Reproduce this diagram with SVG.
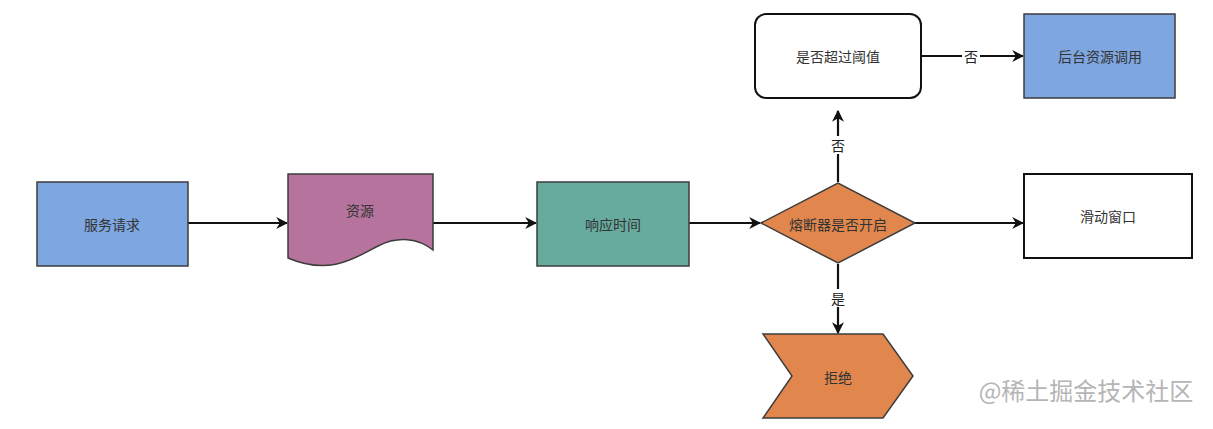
<svg xmlns="http://www.w3.org/2000/svg" width="1213" height="429" viewBox="0 0 1213 429">
<defs>
<marker id="arr" viewBox="0 0 10 10" refX="9" refY="5" markerWidth="12" markerHeight="12" markerUnits="userSpaceOnUse" orient="auto">
<path d="M0,0 L10,5 L0,10 L3,5 Z" fill="#111"/>
</marker>
<style>
text{font-family:"Noto Sans CJK SC","Noto Sans",sans-serif;font-size:14px;fill:#333;text-anchor:middle;dominant-baseline:central}
.n{stroke:#3c3c3c;stroke-width:1.5}
.e{stroke:#111;stroke-width:2.2;fill:none;marker-end:url(#arr)}
.lbl{fill:#222;font-size:14px}
</style>
</defs>
<rect width="1213" height="429" fill="#fff"/>
<g id="connectors">
<line class="e" x1="188" y1="223" x2="287" y2="223"/>
<line class="e" x1="433" y1="223" x2="536" y2="223"/>
<line class="e" x1="689" y1="223" x2="760" y2="223"/>
<line class="e" x1="915" y1="223" x2="1023" y2="223"/>
<line class="e" x1="838" y1="182" x2="838" y2="111"/>
<rect x="829" y="136" width="18" height="18" fill="#fff"/>
<text class="lbl" x="838" y="145">否</text>
<line class="e" x1="921" y1="56" x2="1023" y2="56"/>
<rect x="962" y="47" width="18" height="18" fill="#fff"/>
<text class="lbl" x="971" y="56">否</text>
<line class="e" x1="838" y1="264" x2="838" y2="333"/>
<rect x="829" y="289" width="18" height="18" fill="#fff"/>
<text class="lbl" x="838" y="298">是</text>
</g>
<g id="n1"><rect class="n" x="37" y="182" width="151" height="84" fill="#7EA6E0"/><text x="112" y="224">服务请求</text></g>
<g id="n2"><path class="n" d="M288,174 H433 V250 C418,238 398,236 378,246 C355,258 330,276 288,258 Z" fill="#B5739D"/><text x="360" y="210">资源</text></g>
<g id="n3"><rect class="n" x="537" y="182" width="152" height="84" fill="#67AB9F"/><text x="613" y="224">响应时间</text></g>
<g id="n4"><path class="n" d="M761,223 L838,183 L915,223 L838,263 Z" fill="#E1874D"/><text x="838" y="224">熔断器是否开启</text></g>
<g id="n5"><rect x="755" y="14" width="166" height="84" rx="11" fill="#fff" stroke="#111" stroke-width="2"/><text x="838" y="56">是否超过阈值</text></g>
<g id="n6"><rect class="n" x="1024" y="14" width="151" height="84" fill="#7EA6E0"/><text x="1100" y="56">后台资源调用</text></g>
<g id="n7"><rect x="1024" y="174" width="168" height="84" fill="#fff" stroke="#111" stroke-width="2"/><text x="1108" y="216">滑动窗口</text></g>
<g id="n8"><path class="n" d="M763,334 H883 L913,376 L883,418 H763 L792,376 Z" fill="#E1874D"/><text x="838" y="377">拒绝</text></g>
<text x="1086" y="389" style="font-size:24px;fill:#b5b5b5">@稀土掘金技术社区</text>
</svg>
